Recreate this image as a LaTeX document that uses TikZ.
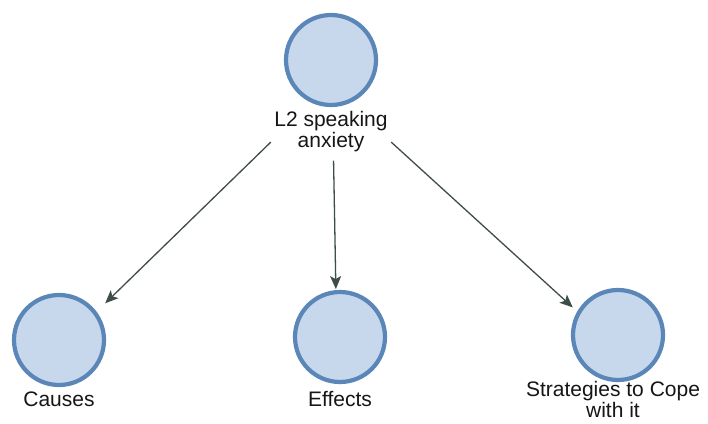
\documentclass[tikz,border=0pt]{standalone}
\usepackage{fontspec}
\setmainfont{Liberation Sans}
\usetikzlibrary{arrows.meta}

\definecolor{bubblefill}{HTML}{C7D7EC}
\definecolor{bubbleline}{HTML}{5A86B8}
\definecolor{linkgray}{HTML}{3F4D49}
\definecolor{labeltext}{HTML}{161616}

\tikzset{
  bubble/.style={circle, draw=bubbleline, fill=bubblefill, line width=4.2pt,
                 minimum size=90pt, inner sep=0pt},
  caption/.style={text=labeltext, font=\fontsize{21}{21}\selectfont,
                  align=center, inner sep=0pt},
  link/.style={draw=linkgray, line width=1.3pt,
               -{Stealth[length=13pt,width=11pt,inset=3pt]}}
}

\begin{document}
\begin{tikzpicture}[x=1pt,y=1pt]
  \useasboundingbox (0,0) rectangle (708,423);
  \fill[white] (0,0) rectangle (708,423);

  % concept bubbles
  \node[bubble] (root)    at (331,363) {};
  \node[bubble] (causes)  at (59,83)   {};
  \node[bubble] (effects) at (340,86)  {};
  \node[bubble] (strat)   at (618,88)  {};

  % captions under the bubbles
  \node[caption, minimum width=120pt, minimum height=58pt] (rootlbl) at (331,291.5)
       {L2 speaking\\anxiety};
  \node[caption] (causeslbl)  at (59,24)  {Causes};
  \node[caption] (effectslbl) at (340,24) {Effects};
  \node[caption] (stratlbl)   at (613,24) {Strategies to Cope\\with it};

  % links from the central topic
  \draw[link, shorten >=12pt] (rootlbl.190) -- (causes.37);
  \draw[link, shorten >=1pt]  (rootlbl.-85) -- (effects.95);
  \draw[link, shorten >=6pt]  (rootlbl.-10) -- (strat.150);
\end{tikzpicture}
\end{document}
